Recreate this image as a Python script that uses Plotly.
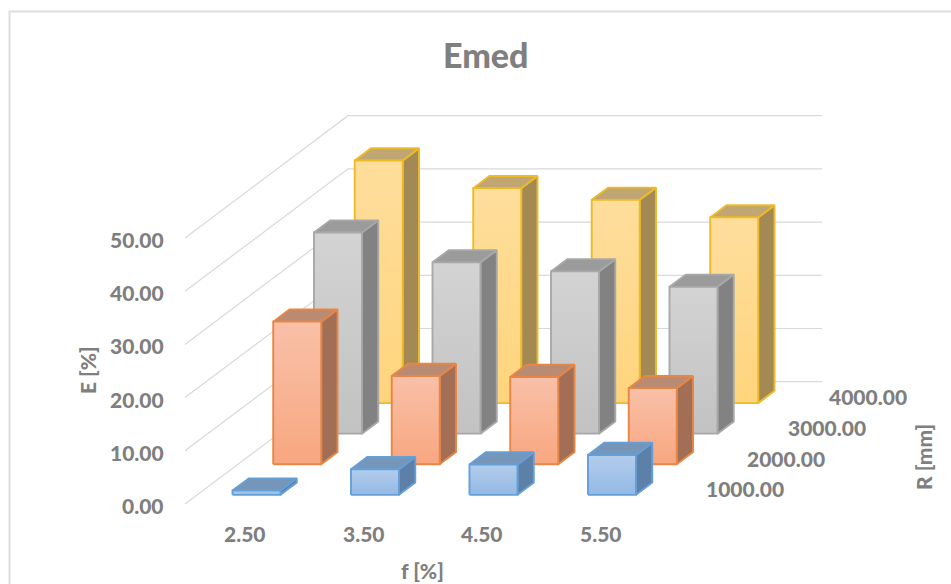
import plotly.graph_objects as go

# Chart data
f_labels = ["2.50", "3.50", "4.50", "5.50"]
r_labels = ["1000.00", "2000.00", "3000.00", "4000.00"]
e_ticks = [0, 10, 20, 30, 40, 50]
e_r1000 = [0.8, 4.8, 5.7, 7.5]
e_r2000 = [26.8, 16.6, 16.4, 14.3]
e_r3000 = [37.8, 32.2, 30.5, 27.6]
e_r4000 = [45.6, 40.4, 38.2, 34.9]

# Oblique projection of (category, series, value) onto the page
ORIGIN_X, ORIGIN_Y = 185.0, 504.0
CAT_STEP = 118.5
DEPTH_DX, DEPTH_DY = 40.75, -30.58
UNIT_Y = 5.32
BAR_W = 0.405
BAR_D = 0.40


def project(cat, depth, value):
    return (ORIGIN_X + CAT_STEP * cat + DEPTH_DX * depth,
            ORIGIN_Y + DEPTH_DY * depth - UNIT_Y * value)


GRID = "#d9d9d9"
TEXT = "#7f7f7f"
FONT = "Lato"

# series style: values, outline, front top, front bottom, top face, side face
series = [
    (e_r1000, "#659fd7", "#b3cdec", "#93b9e4", "#7595b9", "#5c80a8"),
    (e_r2000, "#e88645", "#f9c0a8", "#f8a780", "#b98b72", "#a26f56"),
    (e_r3000, "#a8a8a8", "#d3d3d3", "#c2c2c2", "#9b9b9b", "#828282"),
    (e_r4000, "#eeba28", "#fede9c", "#ffd47c", "#bfa672", "#a38a55"),
]

fig = go.Figure()


def polyline(points, color, width):
    fig.add_trace(go.Scatter(
        x=[p[0] for p in points], y=[p[1] for p in points], mode="lines",
        line=dict(color=color, width=width), hoverinfo="skip", showlegend=False))


def face(points, line_color, fill=None, gradient=None):
    xs = [p[0] for p in points] + [points[0][0]]
    ys = [p[1] for p in points] + [points[0][1]]
    extra = {}
    if gradient:
        extra["fillgradient"] = dict(
            type="vertical",
            colorscale=[[0, gradient[1]], [1, gradient[0]]])
    else:
        extra["fillcolor"] = fill
    fig.add_trace(go.Scatter(
        x=xs, y=ys, mode="lines", fill="toself",
        line=dict(color=line_color, width=1.9),
        hoverinfo="skip", showlegend=False, **extra))


# Chart frame
polyline([(9.5, 600), (9.5, 11.5), (960, 11.5)], "#dedede", 2)

# Side and back wall gridlines
for tick in e_ticks:
    polyline([project(0, 0, tick), project(0, 4, tick), project(4, 4, tick)], GRID, 1.2)

# Bars, painted from the back row to the front row
for s in range(3, -1, -1):
    values, line_c, top_c, bottom_c, lid_c, side_c = series[s]
    for c, v in enumerate(values):
        x0 = c + (1 - BAR_W) / 2
        x1 = x0 + BAR_W
        d0 = s + (1 - BAR_D) / 2
        d1 = d0 + BAR_D
        face([project(x1, d0, 0), project(x1, d1, 0), project(x1, d1, v), project(x1, d0, v)],
             line_c, fill=side_c)
        face([project(x0, d0, v), project(x1, d0, v), project(x1, d1, v), project(x0, d1, v)],
             line_c, fill=lid_c)
        face([project(x0, d0, 0), project(x1, d0, 0), project(x1, d0, v), project(x0, d0, v)],
             line_c, gradient=(top_c, bottom_c))


def label(x, y, text, size=21, anchor="center", angle=0):
    fig.add_annotation(x=x, y=y, text=text, showarrow=False,
                       xanchor=anchor, yanchor="middle", textangle=angle,
                       font=dict(family=FONT, size=size, color=TEXT, weight=900))


# Value axis
for tick in e_ticks:
    gx, gy = project(0, 0, tick)
    label(gx - 19, gy + 1.5, f"{tick:.2f}", anchor="right")

# Category axis
for c, text in enumerate(f_labels):
    gx, gy = project(c + 0.5, 0, 0)
    label(gx + 1, gy + 29.5, text)

# Depth axis
for s, text in enumerate(r_labels):
    gx, gy = project(4, s + 0.5, 0)
    label(gx + 25, gy, text, anchor="left")

# Titles
label(486, 54, "Emed", size=34)
label(87, 370, "E [%]", angle=-90)
label(422, 570, "f [%]")
label(923, 457, "R [mm]", angle=-90)

fig.update_layout(
    width=951, height=584, margin=dict(l=0, r=0, t=0, b=0),
    paper_bgcolor="white", plot_bgcolor="white", showlegend=False,
    xaxis=dict(range=[0, 951], visible=False, fixedrange=True),
    yaxis=dict(range=[584, 0], visible=False, fixedrange=True),
)
fig.write_html("out.html", config={"displayModeBar": False})
